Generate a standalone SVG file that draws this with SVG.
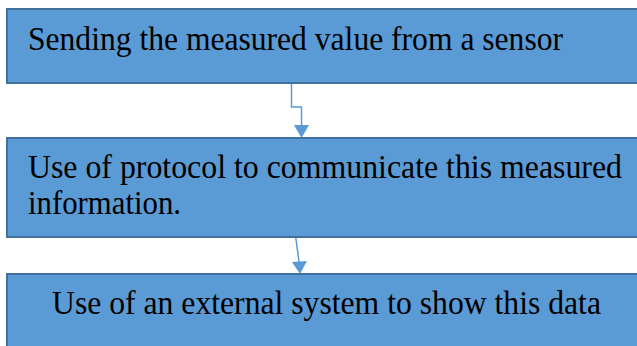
<svg xmlns="http://www.w3.org/2000/svg" width="637" height="346" viewBox="0 0 637 346">
<style>
.box{fill:#5B9BD5;stroke:#41719C;stroke-width:2}
.t{font-family:"Liberation Serif","Times New Roman",serif;font-size:33px;fill:#000}
.c{fill:none;stroke:#5B9BD5;stroke-width:1.5}
</style>
<g id="connectors">
<path class="c" d="M291.5,83 V107 H301.5 V125"/>
<path d="M294,125 L309,125 L301.5,138 Z" fill="#5B9BD5"/>
<path class="c" d="M295.7,237 L299,262"/>
<path d="M292,262 L307,261 L300,274 Z" fill="#5B9BD5"/>
</g>
<g id="node1">
<rect class="box" x="7" y="9" width="640" height="74"/>
<text class="t" x="28" y="50" textLength="535" lengthAdjust="spacingAndGlyphs">Sending the measured value from a sensor</text>
</g>
<g id="node2">
<rect class="box" x="7" y="138" width="640" height="99"/>
<text class="t" x="28" y="178" textLength="594" lengthAdjust="spacingAndGlyphs">Use of protocol to communicate this measured</text>
<text class="t" x="28" y="214" textLength="153" lengthAdjust="spacingAndGlyphs">information.</text>
</g>
<g id="node3">
<rect class="box" x="7" y="274" width="640" height="80"/>
<text class="t" x="52" y="314" textLength="549" lengthAdjust="spacingAndGlyphs">Use of an external system to show this data</text>
</g>
</svg>
